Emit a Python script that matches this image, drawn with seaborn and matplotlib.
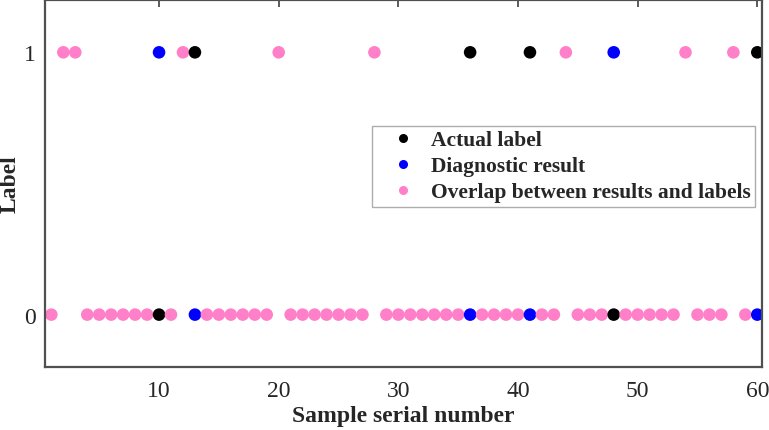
"""Actual labels vs diagnostic results per sample."""
import seaborn as sns
import matplotlib.pyplot as plt
import pandas as pd

samples = list(range(1, 61))
actual_label = [0, 1, 1, 0, 0, 0, 0, 0, 0, 0,
                0, 1, 1, 0, 0, 0, 0, 0, 0, 1,
                0, 0, 0, 0, 0, 0, 0, 1, 0, 0,
                0, 0, 0, 0, 0, 1, 0, 0, 0, 0,
                1, 0, 0, 1, 0, 0, 0, 0, 0, 0,
                0, 0, 0, 1, 0, 0, 0, 1, 0, 1]
diagnostic = [0, 1, 1, 0, 0, 0, 0, 0, 0, 1,
              0, 1, 0, 0, 0, 0, 0, 0, 0, 1,
              0, 0, 0, 0, 0, 0, 0, 1, 0, 0,
              0, 0, 0, 0, 0, 0, 0, 0, 0, 0,
              0, 0, 0, 1, 0, 0, 0, 1, 0, 0,
              0, 0, 0, 1, 0, 0, 0, 1, 0, 0]
kinds = ["Actual label", "Diagnostic result", "Overlap between results and labels"]
colors = ["black", "#0000ff", "#ff80c8"]


def get_rows():
    """One row per dot: overlap where both agree, otherwise both dots."""
    tbl = []
    for smp, act, dia in zip(samples, actual_label, diagnostic):
        if act == dia:
            tbl.append({'sample': smp, 'label': act, 'kind': kinds[2]})
        else:
            tbl.append({'sample': smp, 'label': act, 'kind': kinds[0]})
            tbl.append({'sample': smp, 'label': dia, 'kind': kinds[1]})
    return tbl


dfrm = pd.DataFrame(get_rows())
sns.set_style("white")
plt.rcParams['font.family'] = ['Liberation Serif', 'DejaVu Serif']

fig = plt.figure(figsize=(7.69, 4.31), dpi=100)
ax = fig.add_axes([0.059, 0.146, 0.932, 0.852])
sns.scatterplot(data=dfrm, x="sample", y="label", hue="kind", hue_order=kinds,
                palette=colors, s=82, linewidth=0, ax=ax)

ax.set_xlim(0.5, 60.4)
ax.set_ylim(-0.2, 1.2)
ax.set_xticks([10, 20, 30, 40, 50, 60])
ax.set_yticks([0, 1])
ax.tick_params(direction='in', length=5, width=1.2, color='#404040',
               top=True, right=True, labelsize=17, pad=7)
ax.tick_params(axis='x', pad=9)
for spine in ax.spines.values():
    spine.set_color('#505050')
    spine.set_linewidth(1.6)
ax.set_xlabel("Sample serial number", fontsize=17, fontweight='bold', labelpad=3)
ax.set_ylabel("Label", fontsize=17, fontweight='bold', labelpad=2)

handles, labels = ax.get_legend_handles_labels()
for hnd in handles:
    hnd.set_markersize(6.5)
leg = ax.legend(handles, labels, loc='upper left', bbox_to_anchor=(0.456, 0.657),
                prop={'weight': 'bold', 'size': 15.5}, frameon=True, fancybox=False,
                edgecolor='#999999', borderpad=0.2, handletextpad=0.05,
                labelspacing=0.28, handlelength=2.5, borderaxespad=0)
leg.get_frame().set_linewidth(1.0)

plt.savefig("out.png", dpi=100)
